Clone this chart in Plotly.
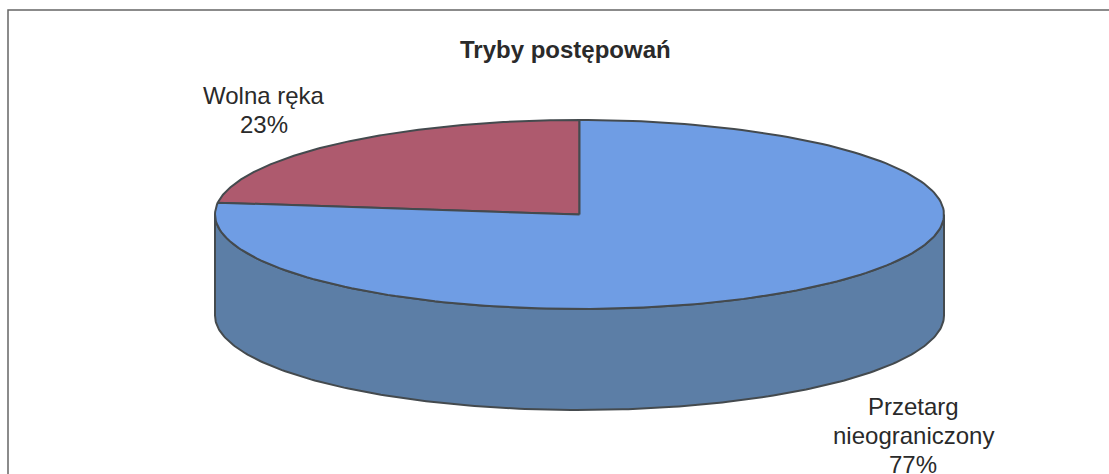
import numpy as np
import plotly.graph_objects as go

title = "Tryby postępowań"
categories = ["Wolna ręka", "Przetarg nieograniczony"]
values = [23, 77]
label_lines = [["Wolna ręka", "23%"], ["Przetarg", "nieograniczony", "77%"]]
top_colors = ["#AE5A6E", "#6F9DE4"]
side_color = "#5C7EA6"
edge_color = "#444A4E"

W, H = 1109, 474
cx, cy, rx, ry, depth = 579.5, 214.5, 364.5, 94.5, 101


def rim(a0, a1, n=200):
    """Points on the tilted disc, angles clockwise from 12 o'clock."""
    t = np.radians(np.linspace(a0, a1, n))
    return cx + rx * np.sin(t), cy - ry * np.cos(t)


fig = go.Figure()

# side wall (front half of the disc, extruded downwards)
xs, ys = rim(90, 270)
fig.add_trace(go.Scatter(
    x=np.r_[xs, xs[::-1], xs[0]], y=np.r_[ys, ys[::-1] + depth, ys[0]],
    mode="lines", fill="toself", fillcolor=side_color,
    line=dict(color=edge_color, width=2), hoverinfo="skip", showlegend=False))

# top slices, drawn from the values
total = sum(values)
start = 360.0
for name, v, col in zip(categories, values, top_colors):
    end = start - 360.0 * v / total
    xs, ys = rim(end, start)
    fig.add_trace(go.Scatter(
        x=np.r_[cx, xs, cx], y=np.r_[cy, ys, cy],
        mode="lines", fill="toself", fillcolor=col, name=name,
        line=dict(color=edge_color, width=2), showlegend=False))
    start = end

fig.add_annotation(x=565.5, y=49, text=f"<b>{title}</b>", showarrow=False,
                   font=dict(size=24, color="#2a2a2a"))

for lines, lx, ly in zip(label_lines, [263.5, 913], [95, 406]):
    for i, line in enumerate(lines):
        fig.add_annotation(x=lx, y=ly + i * 29, text=line, showarrow=False,
                           font=dict(size=24, color="#2a2a2a"), align="center",
                           yanchor="middle")

# chart frame: left and top edges are visible, the rest runs off the picture
fig.add_shape(type="rect", x0=8, y0=10, x1=1130, y1=500,
              line=dict(color="#666666", width=1.5))

fig.update_layout(
    width=W, height=H, margin=dict(l=0, r=0, t=0, b=0),
    paper_bgcolor="white", plot_bgcolor="white",
    font=dict(family="Liberation Sans"),
    xaxis=dict(range=[0, W], visible=False, fixedrange=True),
    yaxis=dict(range=[H, 0], visible=False, fixedrange=True),
)
fig.write_html("out.html", config={"displayModeBar": False},
               post_script="document.body.style.margin='0';document.body.style.overflow='hidden';")
